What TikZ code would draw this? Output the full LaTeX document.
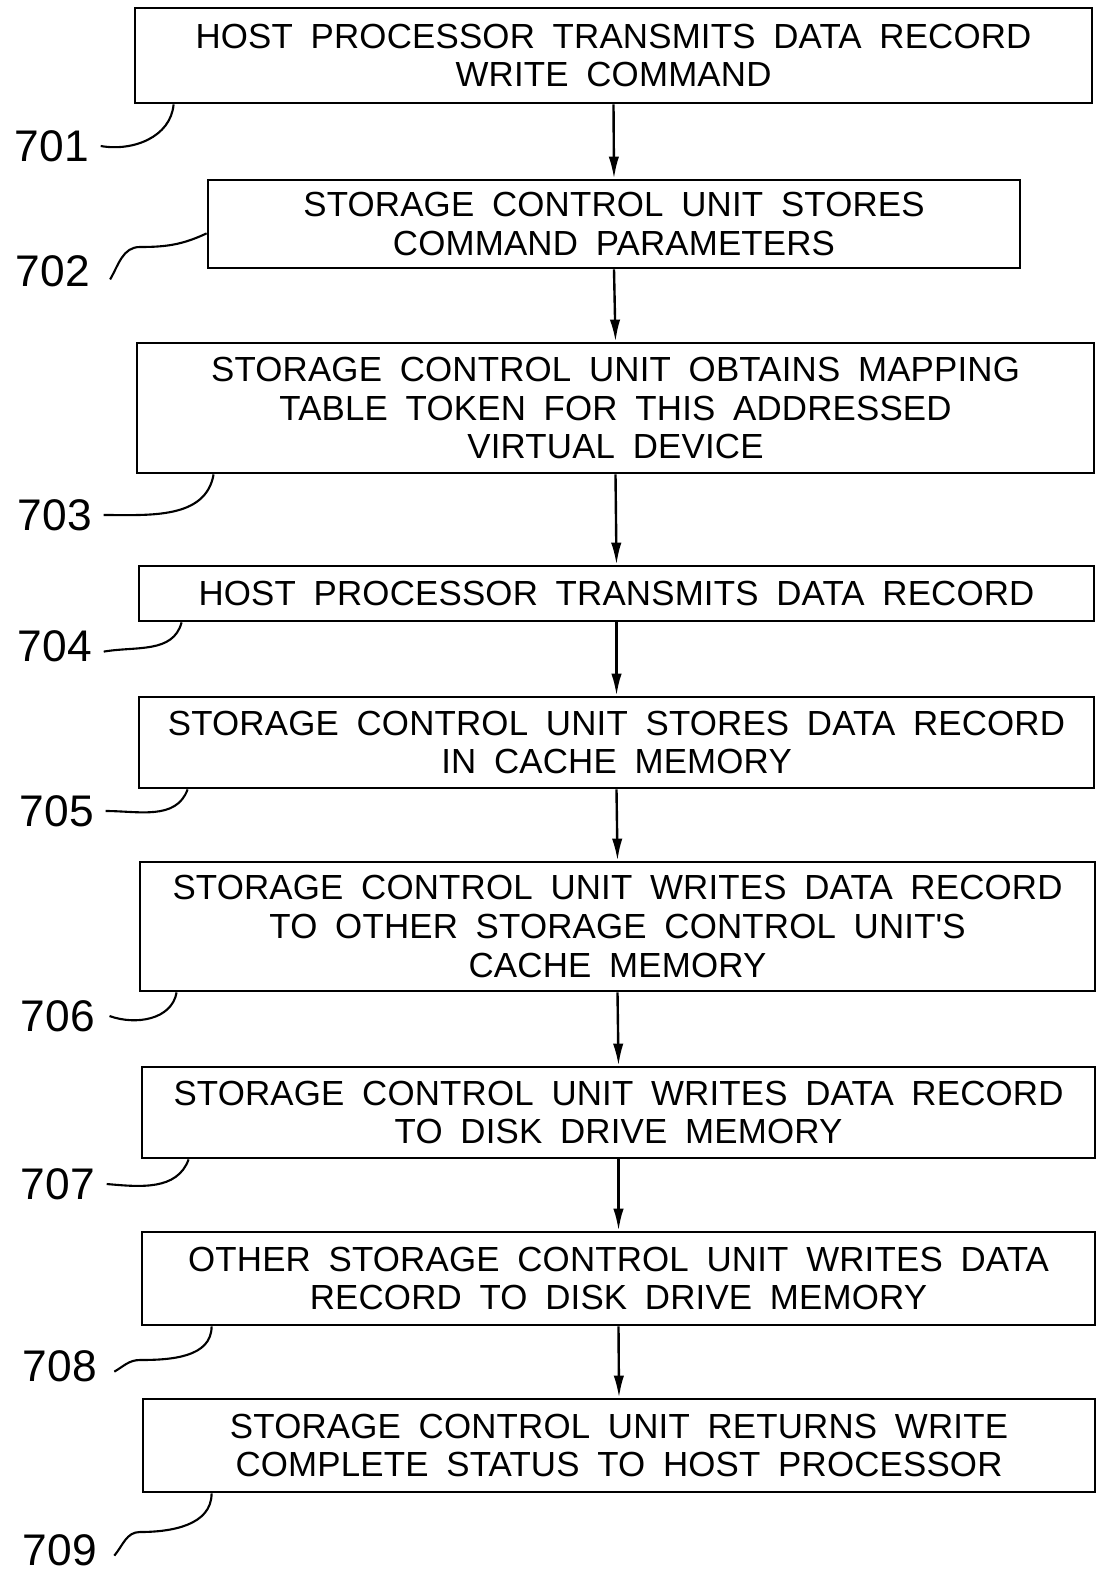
\documentclass[tikz,border=0pt]{standalone}
\usepackage{fontspec}
\setmainfont{Liberation Sans}[LetterSpace=0.5,WordSpace=1.8]
\usetikzlibrary{arrows.meta,calc}
\tikzset{
    stepbox/.style={draw, line width=2pt, inner sep=0pt, align=center,
        font=\fontsize{24.8}{27.5}\selectfont},
    refnum/.style={inner sep=0pt, font=\fontsize{31.5}{32}\selectfont},
    flow/.style={line width=1.7pt, -{Latex[length=0.55cm,width=0.26cm]}},
    leader/.style={line width=1.5pt}
}

\begin{document}
\begin{tikzpicture}[x=0.025cm, y=-0.025cm]
\useasboundingbox (0,0) rectangle (1098,1572);

\node[stepbox, minimum width=957*0.025cm, minimum height=95*0.025cm] (s701) at (613.5,55.5)
    {HOST PROCESSOR TRANSMITS DATA RECORD\\WRITE COMMAND};
\node[stepbox, minimum width=812*0.025cm, minimum height=88*0.025cm] (s702) at (614,224)
    {STORAGE CONTROL UNIT STORES\\COMMAND PARAMETERS};
\node[stepbox, minimum width=957*0.025cm, minimum height=130*0.025cm] (s703) at (615.5,408)
    {STORAGE CONTROL UNIT OBTAINS MAPPING\\TABLE TOKEN FOR THIS ADDRESSED\\VIRTUAL DEVICE};
\node[stepbox, minimum width=955*0.025cm, minimum height=55*0.025cm] (s704) at (616.5,593.5)
    {HOST PROCESSOR TRANSMITS DATA RECORD};
\node[stepbox, minimum width=955*0.025cm, minimum height=91*0.025cm] (s705) at (616.5,742.5)
    {STORAGE CONTROL UNIT STORES DATA RECORD\\IN CACHE MEMORY};
\node[stepbox, minimum width=955*0.025cm, minimum height=129*0.025cm] (s706) at (617.5,926.5)
    {STORAGE CONTROL UNIT WRITES DATA RECORD\\TO OTHER STORAGE CONTROL UNIT\textquotesingle S\\CACHE MEMORY};
\node[stepbox, minimum width=953*0.025cm, minimum height=91*0.025cm] (s707) at (618.5,1112.5)
    {STORAGE CONTROL UNIT WRITES DATA RECORD\\TO DISK DRIVE MEMORY};
\node[stepbox, minimum width=953*0.025cm, minimum height=93*0.025cm] (s708) at (618.5,1278.5)
    {OTHER STORAGE CONTROL UNIT WRITES DATA\\RECORD TO DISK DRIVE MEMORY};
\node[stepbox, minimum width=952*0.025cm, minimum height=93*0.025cm] (s709) at (619,1445.5)
    {STORAGE CONTROL UNIT RETURNS WRITE\\COMPLETE STATUS TO HOST PROCESSOR};

\draw[flow] (s701.south) -- (s702.north);
\draw[flow] (s702.south) -- (s703.north);
\draw[flow] (s703.south) -- (s704.north);
\draw[flow] (s704.south) -- (s705.north);
\draw[flow] (s705.south) -- (s706.north);
\draw[flow] (s706.south) -- (s707.north);
\draw[flow] (s707.south) -- (s708.north);
\draw[flow] (s708.south) -- (s709.north);

\node[refnum] (n701) at (52,146) {701};
\node[refnum] (n702) at (53,271) {702};
\node[refnum] (n703) at (55,515) {703};
\node[refnum] (n704) at (55,646) {704};
\node[refnum] (n705) at (57,811) {705};
\node[refnum] (n706) at (58,1016) {706};
\node[refnum] (n707) at (58,1184) {707};
\node[refnum] (n708) at (60,1366) {708};
\node[refnum] (n709) at (60,1550) {709};

\draw[leader] ([xshift=8pt]n701.east) to[out=-10,in=-95] ($(s701.south west)+(40,0)$);
\draw[leader] ([xshift=14pt,yshift=-6pt]n702.east) to[out=60,in=180] (140,247)
    to[out=0,in=205] ($(s702.south west)+(0,-36)$);
\draw[leader] ([xshift=8pt]n703.east) to[out=0,in=-100] ($(s703.south west)+(78,0)$);
\draw[leader] ([xshift=8pt,yshift=-4pt]n704.east) to[out=10,in=-105] ($(s704.south west)+(44,0)$);
\draw[leader] ([xshift=8pt]n705.east) to[out=0,in=-110] ($(s705.south west)+(50,0)$);
\draw[leader] ([xshift=10pt]n706.east) to[out=-20,in=-100] ($(s706.south west)+(38,0)$);
\draw[leader] ([xshift=8pt]n707.east) to[out=-5,in=-110] ($(s707.south west)+(48,0)$);
\draw[leader] ([xshift=12pt,yshift=-4pt]n708.east) to[out=30,in=180] (140,1360)
    to[out=0,in=-90] ($(s708.south west)+(71,0)$);
\draw[leader] ([xshift=12pt,yshift=-4pt]n709.east) to[out=50,in=180] (140,1532)
    to[out=0,in=-90] ($(s709.south west)+(70,0)$);
\end{tikzpicture}
\end{document}
